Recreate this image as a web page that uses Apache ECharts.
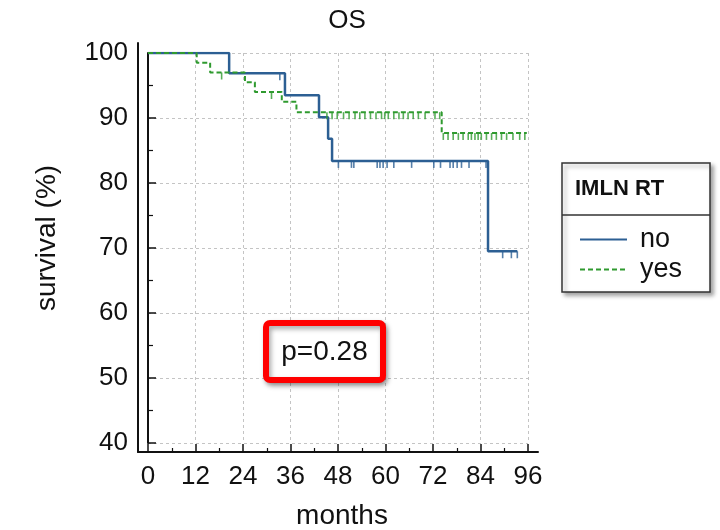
<!DOCTYPE html>
<html><head><meta charset="utf-8">
<script src="https://cdn.jsdelivr.net/npm/echarts@6/dist/echarts.min.js"></script>
<style>html,body{margin:0;padding:0;background:#fff}#c{width:720px;height:530px}</style>
</head><body><div id="c"></div>
<script>
// ---- data ----
const chartTitle = 'OS';
const groupTitle = 'IMLN RT';
const groupNames = ['no', 'yes'];
const pValueText = 'p=0.28';
const xMin = 0, xMax = 96, xStep = 12;     // months
const yMin = 40, yMax = 100, yStep = 10;   // survival (%)
// Kaplan-Meier steps: [month, survival %]
const noSteps = [[0,100],[20.5,96.9],[34.6,93.5],[43.2,90.1],[45.5,86.8],[46.5,83.4],[85.9,69.5],[93.3,69.5]];
const yesSteps = [[0,100],[12.3,98.5],[15.7,97.0],[24.5,95.5],[27.0,94.0],[33.8,92.5],[37.5,90.9],[74.2,87.7],[95.7,87.7]];
// censored observations: [month, survival %]
const noCensored = [[33.3,96.9],
  [48.1,83.4],[51.4,83.4],[52.0,83.4],[57.9,83.4],[58.6,83.4],[59.4,83.4],[60.4,83.4],[62.1,83.4],[66.6,83.4],
  [72.2,83.4],[73.9,83.4],[76.3,83.4],[77.1,83.4],[78.1,83.4],[79.2,83.4],[81.1,83.4],[85.4,83.4],
  [89.6,69.5],[91.8,69.5],[93.3,69.5]];
const yesCensored = [[18.6,97.0],[31.2,94.0],
  [45.2,90.9],[46.5,90.9],[47.8,90.9],[49.4,90.9],[50.8,90.9],[52.3,90.9],[53.5,90.9],[54.8,90.9],[56.2,90.9],
  [57.6,90.9],[59.0,90.9],[59.8,90.9],[60.7,90.9],[62.1,90.9],[63.4,90.9],[64.5,90.9],[65.7,90.9],[67.0,90.9],
  [68.3,90.9],[70.0,90.9],[72.5,90.9],[73.7,90.9],
  [74.6,87.7],[75.8,87.7],[77.1,87.7],[78.4,87.7],[79.6,87.7],[80.9,87.7],[81.7,87.7],[82.6,87.7],[83.4,87.7],
  [84.2,87.7],[85.5,87.7],[86.8,87.7],[88.0,87.7],[89.3,87.7],[90.6,87.7],[92.2,87.7],[93.9,87.7],[95.2,87.7]];

// ---- styling ----
const FONT = '"Liberation Sans", Arial, Helvetica, sans-serif';
const BLUE = '#2c5f93';
const GREEN = '#2f9a2f';
const gridLine = { show: true, lineStyle: { color: '#c4c4c4', type: [3, 3], width: 1 } };

const chart = echarts.init(document.getElementById('c'), null, { renderer: 'canvas' });
chart.setOption({
  backgroundColor: '#fff',
  animation: false,
  textStyle: { fontFamily: FONT },
  title: {
    text: chartTitle, left: 342, top: 3, textAlign: 'center',
    textStyle: { fontFamily: FONT, fontSize: 26, fontWeight: 'normal', color: '#111' }
  },
  grid: [
    { left: 148, right: 192, top: 53, bottom: 87, containLabel: false, outerBoundsMode: 'none' },
    { left: 138, right: 182, top: 43, bottom: 78, containLabel: false, outerBoundsMode: 'none' }
  ],
  xAxis: [
    {
      gridIndex: 0, type: 'value', min: xMin, max: xMax, interval: xStep, offset: 9,
      axisLine: { lineStyle: { color: '#111', width: 2 } },
      axisTick: { inside: true, length: 8, lineStyle: { color: '#111', width: 1.5 } },
      minorTick: { show: true, splitNumber: 2, length: 4, lineStyle: { color: '#111', width: 1.2 } },
      axisLabel: { fontFamily: FONT, fontSize: 26, color: '#111', margin: 12 },
      splitLine: gridLine,
      name: 'months', nameLocation: 'middle', nameGap: 50,
      nameTextStyle: { fontFamily: FONT, fontSize: 28, color: '#111', padding: [0, 0, 0, 8] }
    },
    {
      gridIndex: 1, type: 'value', min: 0, max: 1,
      axisLine: { lineStyle: { color: '#111', width: 2 } },
      axisTick: { show: false }, axisLabel: { show: false }, splitLine: { show: false }
    }
  ],
  yAxis: [
    {
      gridIndex: 0, type: 'value', min: yMin, max: yMax, interval: yStep, offset: 10,
      axisLine: { show: true, lineStyle: { color: '#111', width: 2 } },
      axisTick: { show: true, inside: true, length: 8, lineStyle: { color: '#111', width: 1.5 } },
      minorTick: { show: true, splitNumber: 2, length: 5, lineStyle: { color: '#111', width: 1.2 } },
      axisLabel: { fontFamily: FONT, fontSize: 26, color: '#111', margin: 10 },
      splitLine: gridLine,
      name: 'survival (%)', nameLocation: 'middle', nameGap: 77,
      nameTextStyle: { fontFamily: FONT, fontSize: 28, color: '#111', padding: [0, 0, 0, 20] }
    },
    {
      gridIndex: 1, type: 'value', min: 0, max: 1,
      axisLine: { show: true, lineStyle: { color: '#111', width: 2 } },
      axisTick: { show: false }, axisLabel: { show: false }, splitLine: { show: false }
    }
  ],
  legend: {
    data: groupNames, orient: 'vertical', left: 574, top: 221, z: 10,
    itemWidth: 47, itemHeight: 14, itemGap: 3, selectedMode: false,
    itemStyle: { opacity: 0 },
    textStyle: { fontFamily: FONT, fontSize: 27, color: '#111', padding: [0, 0, 0, 8] }
  },
  series: [
    {
      name: groupNames[0], type: 'line', step: 'end', data: noSteps, symbol: 'none',
      lineStyle: { color: BLUE, width: 2.5 }, itemStyle: { color: BLUE }, z: 3
    },
    {
      name: groupNames[1], type: 'line', step: 'end', data: yesSteps, symbol: 'none',
      lineStyle: { color: GREEN, width: 2, type: [5, 3] }, itemStyle: { color: GREEN }, z: 4
    },
    {
      name: 'no censored', type: 'scatter', data: noCensored, symbol: 'rect',
      symbolSize: [1.6, 7], symbolOffset: [0, 3.5], itemStyle: { color: BLUE }, z: 5
    },
    {
      name: 'yes censored', type: 'scatter', data: yesCensored, symbol: 'rect',
      symbolSize: [1.6, 7], symbolOffset: [0, 3.5], itemStyle: { color: GREEN }, z: 5
    }
  ],
  graphic: [
    { type: 'rect', z: 1, shape: { x: 562, y: 163, width: 148, height: 129 },
      style: { fill: '#fff', stroke: '#333', lineWidth: 1.5, shadowBlur: 4, shadowOffsetX: 3, shadowOffsetY: 3, shadowColor: 'rgba(0,0,0,0.35)' } },
    { type: 'line', z: 2, shape: { x1: 562, y1: 215, x2: 710, y2: 215 }, style: { stroke: '#333', lineWidth: 1.5 } },
    { type: 'text', z: 2, x: 575, y: 189,
      style: { text: groupTitle, font: 'bold 22px ' + FONT, fill: '#111', verticalAlign: 'middle' } },
    { type: 'rect', z: 6, shape: { x: 266, y: 323, width: 117, height: 57, r: 4 },
      style: { fill: '#fff', stroke: '#f00', lineWidth: 6, shadowBlur: 5, shadowOffsetX: 2, shadowOffsetY: 3, shadowColor: 'rgba(0,0,0,0.35)' } },
    { type: 'text', z: 7, x: 324.5, y: 352,
      style: { text: pValueText, font: '28px ' + FONT, fill: '#111', align: 'center', verticalAlign: 'middle' } }
  ]
});
</script></body></html>
